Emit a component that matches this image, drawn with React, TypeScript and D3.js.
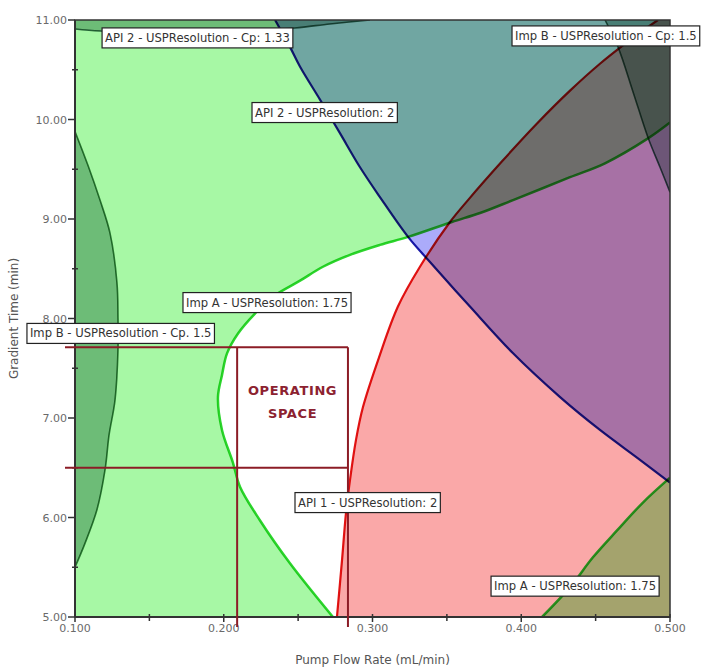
import React, { useMemo } from 'react';
import * as d3 from 'd3';

type Pt = [number, number];

// Axis setup (Pump Flow Rate vs Gradient Time)
const flowDomain: [number, number] = [0.1, 0.5];
const timeDomain: [number, number] = [5, 11];
const flowTicks = [0.1, 0.2, 0.3, 0.4, 0.5];
const flowMinorTicks = [0.15, 0.25, 0.35, 0.45];
const timeTicks = [5, 6, 7, 8, 9, 10, 11];
const timeMinorTicks = [5.5, 6.5, 7.5, 8.5, 9.5, 10.5];

// Imp A - USPResolution 1.75 contour, left/upper branch (fails outside)
const impAUpperEdge: Pt[] = [
  [0.2734, 5.0], [0.2445, 5.54], [0.2244, 5.97], [0.2109, 6.31], [0.2062, 6.55],
  [0.1988, 6.88], [0.1961, 7.21], [0.1988, 7.43], [0.2022, 7.65], [0.2096, 7.85],
  [0.221, 8.05], [0.2331, 8.22], [0.2513, 8.38], [0.2667, 8.52], [0.2849, 8.64],
  [0.305, 8.74], [0.3239, 8.82], [0.3534, 8.97], [0.3723, 9.06], [0.3945, 9.19],
  [0.4328, 9.42], [0.4563, 9.56], [0.4852, 9.81], [0.5, 9.97],
];
// Imp A - USPResolution 1.75 contour, lower-right branch
const impALowerEdge: Pt[] = [
  [0.414, 5.0], [0.4328, 5.3], [0.4482, 5.6], [0.4644, 5.87], [0.4818, 6.15], [0.5, 6.4],
];
// API 1 - USPResolution 2 contour
const api1Edge: Pt[] = [
  [0.2761, 5.0], [0.2795, 5.57], [0.2822, 6.05], [0.2849, 6.38], [0.2889, 6.78],
  [0.2936, 7.11], [0.3044, 7.61], [0.3171, 8.12], [0.3319, 8.52], [0.3521, 8.97],
  [0.3642, 9.19], [0.3871, 9.58], [0.4106, 9.96], [0.4328, 10.29], [0.4529, 10.56],
  [0.4697, 10.76], [0.4852, 10.93], [0.4919, 11.0],
];
// API 2 - USPResolution 2 contour
const api2Edge: Pt[] = [
  [0.2345, 11.0], [0.2445, 10.73], [0.2513, 10.53], [0.2647, 10.2], [0.2782, 9.86],
  [0.2916, 9.52], [0.305, 9.22], [0.3239, 8.82], [0.3373, 8.59], [0.3655, 8.12],
  [0.3945, 7.65], [0.4261, 7.21], [0.4529, 6.88], [0.4798, 6.58], [0.5, 6.35],
];
// Imp B - USPResolution - Cp 1.5 contour, left branch
const impBCpLeftEdge: Pt[] = [
  [0.1, 9.88], [0.1087, 9.54], [0.1168, 9.19], [0.1235, 8.86], [0.1282, 8.36],
  [0.1289, 8.02], [0.1289, 7.68], [0.1269, 7.18], [0.1229, 6.83], [0.1202, 6.48],
  [0.1148, 6.08], [0.1067, 5.74], [0.1, 5.5],
];
// Imp B - USPResolution - Cp 1.5 contour, upper-right branch
const impBCpRightEdge: Pt[] = [
  [0.4563, 11.0], [0.465, 10.73], [0.4751, 10.28], [0.4852, 9.82], [0.4933, 9.52], [0.5, 9.27],
];
// API 2 - USPResolution - Cp 1.33 contour
const api2CpEdge: Pt[] = [
  [0.1, 10.91], [0.1168, 10.89], [0.1504, 10.88], [0.184, 10.88], [0.2176, 10.89],
  [0.2479, 10.92], [0.2714, 10.96], [0.2983, 11.0],
];

// Operating space set point box
const operatingFlow: [number, number] = [0.209, 0.2835];
const operatingTime: [number, number] = [6.5, 7.71];

// Contour labels (anchored at the left-middle of each tag)
const labelTexts = [
  'API 2 - USPResolution - Cp: 1.33',
  'API 2 - USPResolution: 2',
  'Imp B - USPResolution - Cp: 1.5',
  'Imp A - USPResolution: 1.75',
  'Imp B - USPResolution - Cp. 1.5',
  'API 1 - USPResolution: 2',
  'Imp A - USPResolution: 1.75',
];
const labelFlow = [0.1182, 0.219, 0.3938, 0.1726, 0.0677, 0.2479, 0.3797];
const labelTime = [10.82, 10.07, 10.84, 8.16, 7.85, 6.15, 5.31];

const W = 702;
const H = 668;
const LEFT = 75;
const RIGHT = 670;
const TOP = 20;
const BOTTOM = 617;
const FONT = "'DejaVu Sans', Verdana, sans-serif";
const LABEL_FONT_SIZE = 11.6;

let measureCtx: CanvasRenderingContext2D | null = null;
function textWidth(text: string, font: string): number {
  if (!measureCtx) measureCtx = document.createElement('canvas').getContext('2d');
  if (!measureCtx) return text.length * 6;
  measureCtx.font = font;
  return measureCtx.measureText(text).width;
}

export default function App() {
  const x = useMemo(() => d3.scaleLinear().domain(flowDomain).range([LEFT, RIGHT]), []);
  const y = useMemo(() => d3.scaleLinear().domain(timeDomain).range([BOTTOM, TOP]), []);

  const line = d3
    .line<Pt>()
    .x((d) => x(d[0]))
    .y((d) => y(d[1]))
    .curve(d3.curveCatmullRom.alpha(0.5));

  const region = (edge: Pt[], corners: Pt[]) =>
    (line(edge) || '') + corners.map((c) => `L${x(c[0])},${y(c[1])}`).join('') + 'Z';

  const regions = [
    // Imp A failing area (two pieces)
    { d: region(impAUpperEdge, [[0.5, 11], [0.1, 11], [0.1, 5]]), fill: '#a7f8a5' },
    { d: region(impALowerEdge, [[0.5, 5]]), fill: '#a7f8a5' },
    // API 1 failing area
    { d: region(api1Edge, [[0.5, 11], [0.5, 5]]), fill: '#faa8a8' },
    // API 2 failing area
    { d: region(api2Edge, [[0.5, 11]]), fill: '#ababfa' },
    // Cp failing areas
    { d: region(impBCpLeftEdge, []), fill: '#a6c2b8' },
    { d: region(impBCpRightEdge, [[0.5, 11]]), fill: '#a6c2b8' },
    { d: region(api2CpEdge, [[0.1, 11]]), fill: '#a6c2b8' },
  ];

  const edges = [
    { pts: impAUpperEdge, stroke: '#2ed42e', w: 2.5 },
    { pts: impALowerEdge, stroke: '#2ed42e', w: 2.5 },
    { pts: api1Edge, stroke: '#e21414', w: 2.2 },
    { pts: api2Edge, stroke: '#1c1ca8', w: 2.2 },
    { pts: impBCpLeftEdge, stroke: '#3d7d4a', w: 1.6 },
    { pts: impBCpRightEdge, stroke: '#3d6d5a', w: 1.6 },
    { pts: api2CpEdge, stroke: '#3d6d5a', w: 1.6 },
  ];

  const ox0 = x(operatingFlow[0]);
  const ox1 = x(operatingFlow[1]);
  const oy0 = y(operatingTime[1]);
  const oy1 = y(operatingTime[0]);
  const opColor = '#8c1c26';

  const labelFont = `${LABEL_FONT_SIZE}px ${FONT}`;

  return (
    <svg
      width={W}
      height={H}
      style={{ position: 'absolute', left: 0, top: 0, background: '#fff' }}
      fontFamily={FONT}
    >
      <defs>
        <clipPath id="plot-clip">
          <rect x={LEFT} y={TOP} width={RIGHT - LEFT} height={BOTTOM - TOP} />
        </clipPath>
      </defs>

      <g clipPath="url(#plot-clip)" style={{ isolation: 'isolate' }}>
        <rect x={LEFT} y={TOP} width={RIGHT - LEFT} height={BOTTOM - TOP} fill="#fff" />
        {regions.map((r, i) => (
          <path key={`r${i}`} d={r.d} fill={r.fill} stroke="none" style={{ mixBlendMode: 'multiply' }} />
        ))}
        {edges.map((e, i) => (
          <path
            key={`e${i}`}
            d={line(e.pts) || ''}
            fill="none"
            stroke={e.stroke}
            strokeWidth={e.w}
            style={{ mixBlendMode: 'multiply' }}
          />
        ))}
      </g>

      {/* frame */}
      <rect x={LEFT} y={TOP} width={RIGHT - LEFT} height={BOTTOM - TOP} fill="none" stroke="#333" strokeWidth={1.5} />
      <line x1={LEFT} x2={LEFT} y1={TOP} y2={BOTTOM} stroke="#333" strokeWidth={2} />
      <line x1={LEFT} x2={RIGHT} y1={BOTTOM} y2={BOTTOM} stroke="#333" strokeWidth={2} />

      {/* y axis ticks */}
      {timeTicks.map((t) => (
        <g key={`yt${t}`}>
          <line x1={LEFT - 7} x2={LEFT} y1={y(t)} y2={y(t)} stroke="#333" strokeWidth={1.5} />
          <text x={LEFT - 8} y={y(t) + 4} textAnchor="end" fontSize={11} fill="#6a6a6a">
            {t.toFixed(2)}
          </text>
        </g>
      ))}
      {timeMinorTicks.map((t) => (
        <line key={`ym${t}`} x1={LEFT - 3} x2={LEFT + 3} y1={y(t)} y2={y(t)} stroke="#333" strokeWidth={1.5} />
      ))}

      {/* x axis ticks */}
      {flowTicks.map((f) => (
        <g key={`xt${f}`}>
          <line x1={x(f)} x2={x(f)} y1={BOTTOM - 3} y2={BOTTOM + 5} stroke="#333" strokeWidth={1.5} />
          <text x={x(f)} y={BOTTOM + 15} textAnchor="middle" fontSize={11} fill="#6a6a6a">
            {f.toFixed(3)}
          </text>
        </g>
      ))}
      {flowMinorTicks.map((f) => (
        <line key={`xm${f}`} x1={x(f)} x2={x(f)} y1={BOTTOM - 3} y2={BOTTOM + 4} stroke="#333" strokeWidth={1.5} />
      ))}

      {/* axis titles */}
      <text x={(LEFT + RIGHT) / 2} y={664} textAnchor="middle" fontSize={12} fill="#555">
        Pump Flow Rate (mL/min)
      </text>
      <text
        transform={`translate(18, ${(TOP + BOTTOM) / 2}) rotate(-90)`}
        textAnchor="middle"
        fontSize={12}
        fill="#555"
      >
        Gradient Time (min)
      </text>

      {/* operating space box with guide lines to the axes */}
      <g stroke={opColor} strokeWidth={2}>
        <line x1={LEFT - 10} x2={ox1} y1={oy0} y2={oy0} />
        <line x1={LEFT - 10} x2={ox1} y1={oy1} y2={oy1} />
        <line x1={ox0} x2={ox0} y1={oy0} y2={BOTTOM + 10} />
        <line x1={ox1} x2={ox1} y1={oy0} y2={BOTTOM + 10} />
      </g>
      <g fill="#8c2230" fontWeight="bold" fontSize={13} textAnchor="middle" letterSpacing={0.6}>
        <text x={(ox0 + ox1) / 2} y={(oy0 + oy1) / 2 - 13}>OPERATING</text>
        <text x={(ox0 + ox1) / 2} y={(oy0 + oy1) / 2 + 10}>SPACE</text>
      </g>

      {/* contour tags */}
      {labelTexts.map((t, i) => {
        const lx = x(labelFlow[i]);
        const ly = y(labelTime[i]);
        const tw = textWidth(t, labelFont);
        return (
          <g key={`lab${i}`}>
            <rect x={lx} y={ly - 10} width={tw + 6} height={20} fill="#fff" stroke="#222" strokeWidth={1.2} />
            <text x={lx + 3} y={ly + 4} fontSize={LABEL_FONT_SIZE} fill="#333">
              {t}
            </text>
          </g>
        );
      })}
    </svg>
  );
}
